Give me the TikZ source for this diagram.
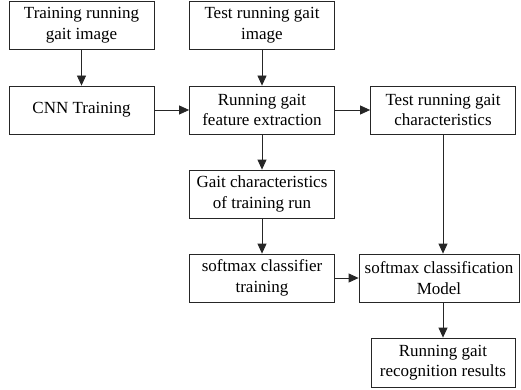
\documentclass[tikz,border=0pt]{standalone}
\usepackage{fontspec}
\setmainfont{Liberation Serif}
\usetikzlibrary{arrows.meta}
\begin{document}
\begin{tikzpicture}[x=1pt,y=-1pt,
  box/.style={draw=black!85,line width=0.8pt,minimum width=145pt,minimum height=48pt,align=center,inner sep=0pt,font=\fontsize{17}{20.5}\selectfont},
  arr/.style={draw=black!85,line width=0.8pt,-{Triangle[length=10pt,width=9pt]}}]
\useasboundingbox (0,0) rectangle (521,390);
\node[box] (b1) at (81.5,25) {Training running\\gait image};
\node[box] (cnn) at (81.5,110) {CNN Training};
\node[box] (ti) at (262,25) {Test running gait\\image};
\node[box] (fe) at (262,110) {Running gait\\feature extraction};
\node[box] (tc) at (443,110) {Test running gait\\characteristics};
\node[box] (gc) at (262,194) {Gait characteristics\\of training run};
\node[box] (st) at (262,278) {softmax classifier\\training};
\node[box,minimum width=160pt] (sm) at (439,278) {softmax classification\\Model};
\node[box,minimum width=144pt,minimum height=49pt] (rr) at (443,362.5) {Running gait\\recognition results};
\draw[arr] (b1) -- (cnn);
\draw[arr] (cnn) -- (fe);
\draw[arr] (ti) -- (fe);
\draw[arr] (fe) -- (tc);
\draw[arr] (fe) -- (gc);
\draw[arr] (gc) -- (st);
\draw[arr] (st) -- (sm);
\draw[arr] (tc.south) -- (tc.south |- sm.north);
\draw[arr] (rr.north |- sm.south) -- (rr.north);
\end{tikzpicture}
\end{document}
